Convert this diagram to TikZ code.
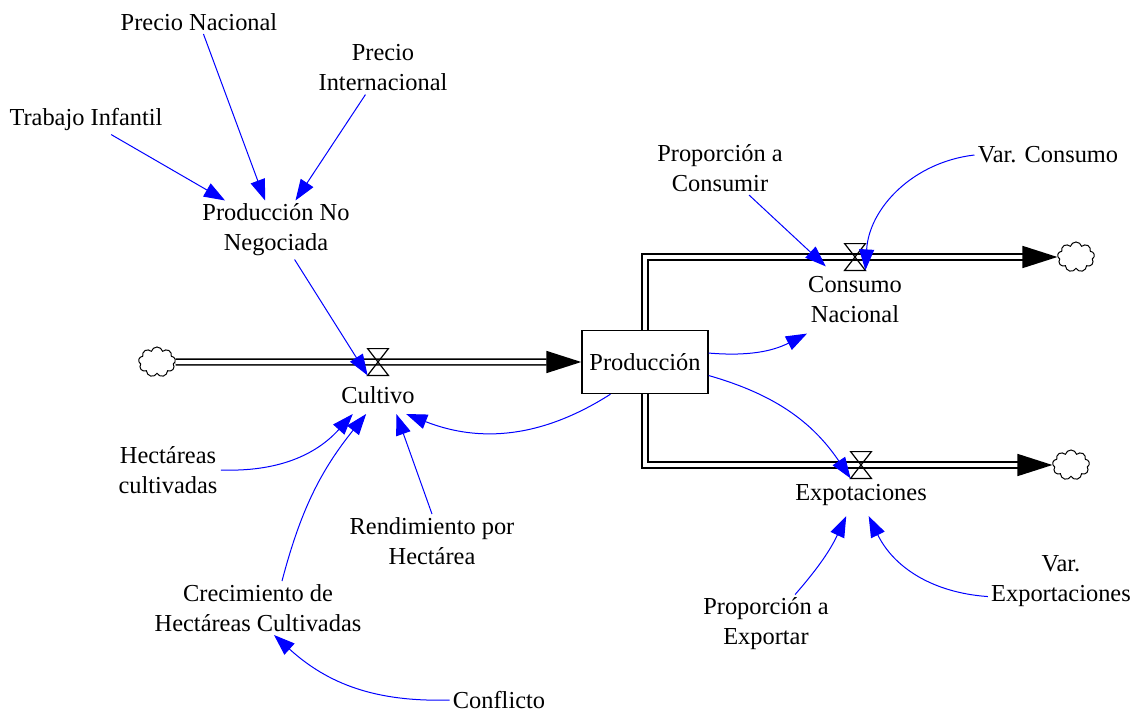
\documentclass[tikz,border=0pt]{standalone}
\usepackage{fontspec}
\setmainfont{Liberation Serif}
\usetikzlibrary{arrows.meta}
\usetikzlibrary{shapes.symbols}
\tikzset{>=latex}
\colorlet{linkblue}{blue}
\tikzset{
  var/.style={align=center, inner sep=1.5pt},
  rate/.style={align=center, inner sep=5pt},
  stockbox/.style={draw, line width=0.7pt, minimum width=63pt, minimum height=31.5pt, inner sep=0pt},
  valve/.style={minimum width=10pt, minimum height=13pt, inner sep=0pt},
  cloudy/.style={cloud, draw, cloud puffs=9, aspect=1.25, minimum width=18.5pt, minimum height=15pt, inner sep=0pt, line width=0.5pt},
  pipe/.style={double, line width=0.8pt, double distance=2pt, -{Triangle[length=17.5pt,width=11pt]}},
  link/.style={linkblue, line width=0.5pt, -{Triangle[length=10.5pt,width=7.5pt]}},
}

\begin{document}
\begin{tikzpicture}[x=0.5pt, y=-0.5pt, font=\fontsize{12.2}{15}\selectfont]
  \useasboundingbox (0,0) rectangle (1135,712);

  % stock, sources and sinks
  \node[stockbox] (prod) at (645,362) {Producción};
  \node[cloudy] (src) at (157,362) {};
  \node[cloudy] (sinkc) at (1076,257) {};
  \node[cloudy] (sinke) at (1071,465) {};

  % flows
  \node[valve] (vcult) at (378,362) {};
  \node[valve] (vcons) at (855,257) {};
  \node[valve] (vexp) at (861,465) {};
  \draw[pipe] (src) -- (prod);
  \draw[pipe] (prod.north) |- (sinkc);
  \draw[pipe] (prod.south) |- (sinke);
  \foreach \v in {vcult,vcons,vexp}
    \draw[line width=0.6pt] (\v.north west) -- (\v.north east) -- (\v.south west) -- (\v.south east) -- cycle;
  \node[rate] (cult) at (378,395) {Cultivo};
  \node[rate] (cons) at (855,300) {Consumo\\Nacional};
  \node[rate] (expo) at (861,495) {Expotaciones};

  % auxiliaries
  \node[var] (pnac) at (199,22) {Precio Nacional};
  \node[var] (pint) at (383,68) {Precio\\Internacional};
  \node[var] (trab) at (86,120) {Trabajo Infantil};
  \node[var] (pnn) at (276,230) {Producción No\\Negociada};
  \node[var] (hect) at (168,470) {Hectáreas\\cultivadas};
  \node[var] (rend) at (432,541) {Rendimiento por\\Hectárea};
  \node[var] (crec) at (258,608) {Crecimiento de\\Hectáreas Cultivadas};
  \node[var] (conf) at (499,700) {Conflicto};
  \node[var] (pcons) at (720,168) {Proporción a\\Consumir};
  \node[var] (vcon) at (1048,155) {Var. Consumo};
  \node[var] (pexp) at (766,624) {Proporción a\\Exportar};
  \node[var] (vexpo) at (1061,581) {Var.\\Exportaciones};

  % links
  \draw[link] (pnac) -- (pnn);
  \draw[link] (pint) -- (pnn);
  \draw[link] (trab) -- (pnn);
  \draw[link] (pnn) -- (vcult.south west);
  \draw[link] (prod.223) to[bend left=27] (cult.-34);
  \draw[link] (hect.east) to[bend right=25] (cult.217);
  \draw[link] (rend.north) -- (cult.-46);
  \draw[link] ([xshift=12pt]crec.north) to[bend left=12] (cult.238);
  \draw[link] (conf.west) to[bend left=22] ([xshift=8pt]crec.south);
  \draw[link] (prod.8) to[bend right=16] (cons.215);
  \draw[link] (prod.-12) to[bend left=20] (vexp.south west);
  \draw[link] (pcons) -- (cons.131);
  \draw[link] (vcon.west) to[bend right=40] (vcons.south east);
  \draw[link] (pexp) to[bend right=8] (expo.235);
  \draw[link] (vexpo.192) to[bend left=30] (expo.-70);
\end{tikzpicture}
\end{document}
